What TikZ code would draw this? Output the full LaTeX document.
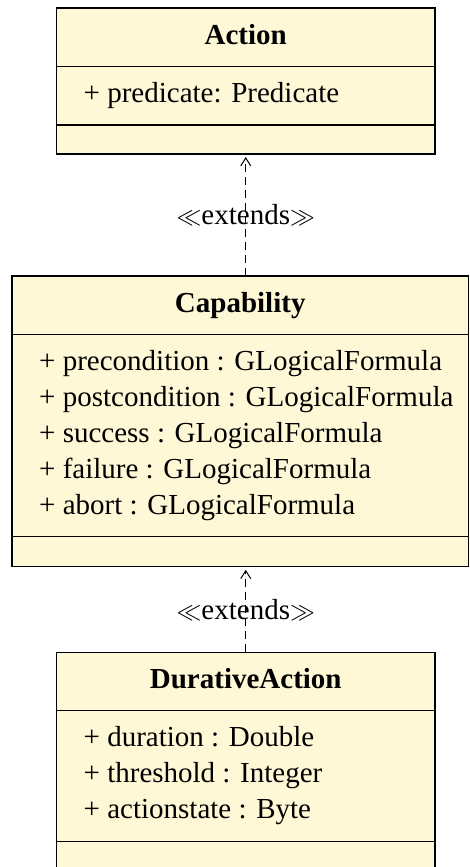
\documentclass[tikz,border=0pt]{standalone}
\usepackage{fontspec}
\setmainfont{Liberation Serif}
\usetikzlibrary{positioning,arrows.meta}
\definecolor{classfill}{RGB}{255,248,214}

\begin{document}
\begin{tikzpicture}[
    x=1pt, y=1pt,
    every node/.style={font=\fontsize{29}{36}\selectfont},
    class box/.style={draw=black, line width=1.2pt, fill=classfill, outer sep=0pt, inner sep=0pt},
    title box/.style={class box, font=\fontsize{29}{36}\selectfont\bfseries, text height=20pt, text depth=6pt},
    attr text/.style={anchor=west, xshift=27pt, align=left, inner sep=0pt},
    extends line/.style={line width=1pt, dash pattern=on 8pt off 5pt,
        -{Straight Barb[length=8pt,width=10pt,line width=1pt]}, shorten >=3pt}
]
\useasboundingbox (0,0) rectangle (469,-867);

% Action
\node[title box, minimum width=378.5pt, minimum height=58.5pt] (acttitle) at (245.75,-37.25) {Action};
\node[class box, minimum width=378.5pt, minimum height=58.5pt, below=0pt of acttitle,
    label={[attr text]west:{+ predicate: Predicate}}] (actattr) {};
\node[class box, minimum width=378.5pt, minimum height=29pt, below=0pt of actattr] (actmeth) {};

% Capability
\node[title box, minimum width=456.5pt, minimum height=58.7pt, below=122pt of actmeth, xshift=-5.5pt] (captitle) {Capability};
\node[class box, minimum width=456.5pt, minimum height=202pt, below=0pt of captitle,
    label={[attr text]west:{+ precondition : GLogicalFormula\\
        + postcondition : GLogicalFormula\\
        + success : GLogicalFormula\\
        + failure : GLogicalFormula\\
        + abort : GLogicalFormula}}] (capattr) {};
\node[class box, minimum width=456.5pt, minimum height=30pt, below=0pt of capattr] (capmeth) {};

% DurativeAction
\node[title box, minimum width=378.5pt, minimum height=58.5pt, below=85.5pt of capmeth, xshift=5.5pt] (durtitle) {DurativeAction};
\node[class box, minimum width=378.5pt, minimum height=130.7pt, below=0pt of durtitle,
    label={[attr text]west:{+ duration : Double\\
        + threshold : Integer\\
        + actionstate : Byte}}] (durattr) {};
\node[class box, minimum width=378.5pt, minimum height=30pt, below=0pt of durattr] (durmeth) {};

% generalisations
\draw[extends line] (captitle.north -| actmeth.south) -- (actmeth.south)
    node[midway] (ext1) {$\ll$extends$\gg$};
\draw[extends line] (durtitle.north) -- (capmeth.south -| durtitle.north)
    node[midway] (ext2) {$\ll$extends$\gg$};

\end{tikzpicture}
\end{document}
